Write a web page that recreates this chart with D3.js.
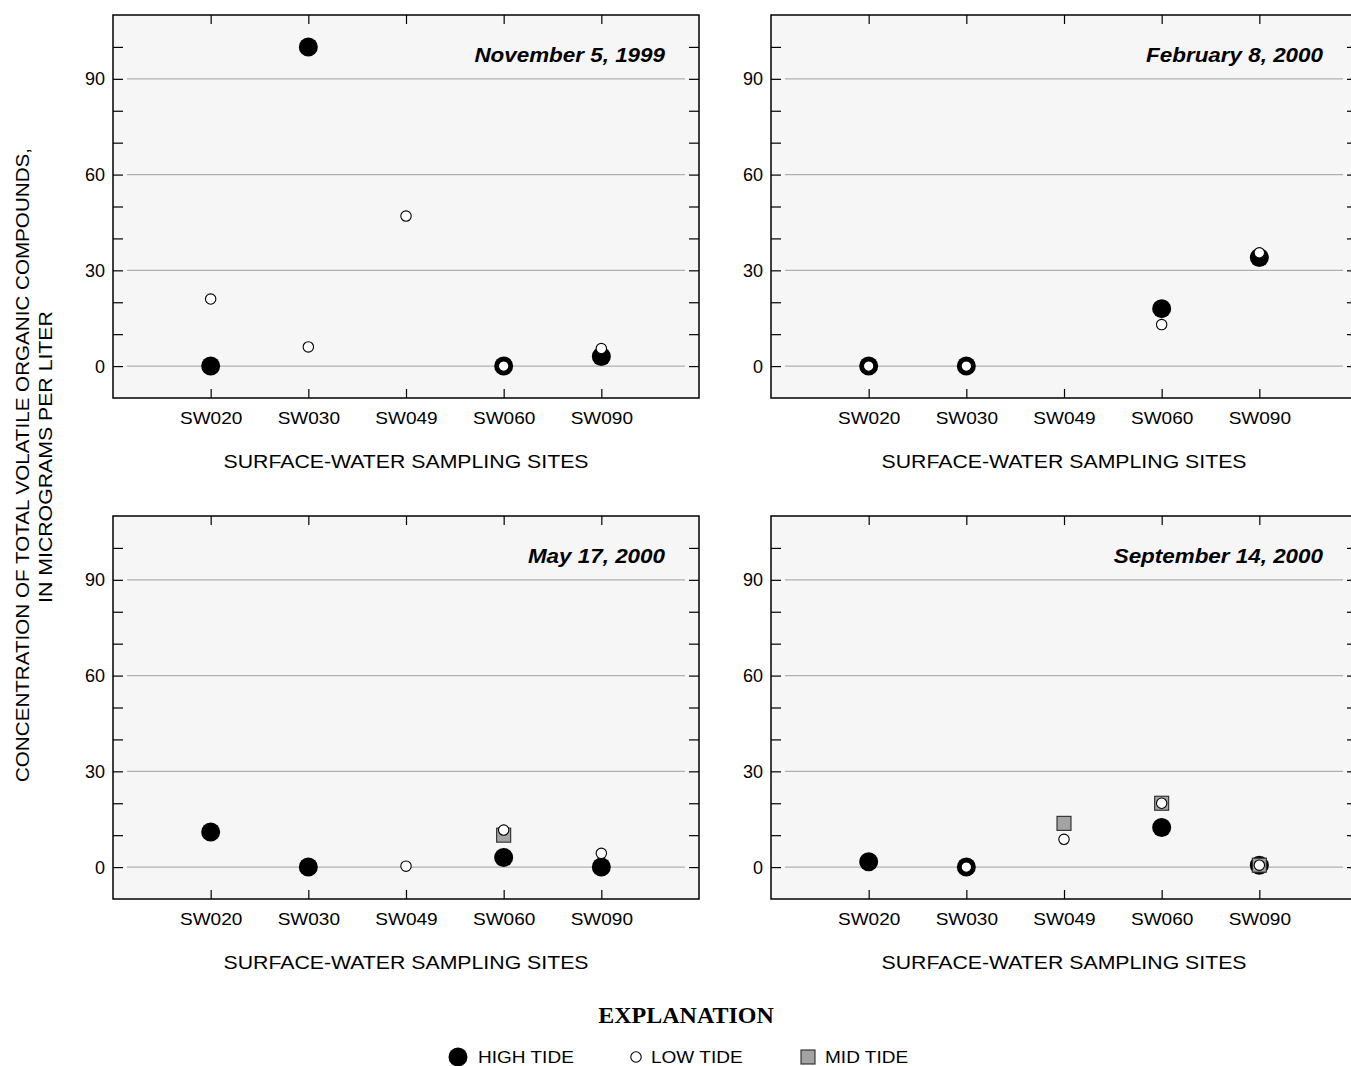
<!DOCTYPE html>
<html>
<head>
<meta charset="utf-8">
<script src="https://cdn.jsdelivr.net/npm/d3@7"></script>
<style>
  html, body { margin: 0; padding: 0; background: #ffffff; }
  svg { display: block; }
  text { font-family: "Liberation Sans", Arial, Helvetica, sans-serif; fill: #000; }
</style>
</head>
<body>
<svg id="chart" width="1351" height="1066"></svg>
<script>
// Sampling sites along the x axis
const sites = ["SW020", "SW030", "SW049", "SW060", "SW090"];

// One panel per sampling date
const sampleDates = ["November 5, 1999", "February 8, 2000", "May 17, 2000", "September 14, 2000"];

// Total VOC concentration (micrograms per liter), one row per date, one column per site; null = not sampled
const highTide = [
  [0, 100, null, 0, 3],
  [0, 0, null, 18, 34],
  [11, 0, null, 3, 0],
  [1.7, 0, null, 12.4, 0.6]
];
const lowTide = [
  [21, 6, 47, 0, 5.5],
  [0, 0, null, 13, 35.5],
  [null, null, 0.3, 11.6, 4.3],
  [null, 0, 8.7, 20, 0.6]
];
const midTide = [
  [null, null, null, null, null],
  [null, null, null, null, null],
  [null, null, null, 10, null],
  [null, null, 13.7, 20, 0.6]
];

// Axis ticks
const yMinorTicks = [0, 10, 20, 30, 40, 50, 60, 70, 80, 90, 100];
const yTickLabels = [0, 30, 60, 90];
const yDomain = [-10, 110];

const xAxisTitle = "SURFACE-WATER SAMPLING SITES";
const yAxisTitle = ["CONCENTRATION OF TOTAL VOLATILE ORGANIC COMPOUNDS,", "IN MICROGRAMS PER LITER"];
const legendTitle = "EXPLANATION";
const legendItems = ["HIGH TIDE", "LOW TIDE", "MID TIDE"];

// ---- layout ----
const svg = d3.select("#chart");
const panelW = 586, panelH = 383;
const panelOrigins = [[113, 15], [771, 15], [113, 516], [771, 516]];
const rHigh = 9.5, rLow = 5.2, sqMid = 14;

// text placed in a group so it can be widened along its own direction
function label(parent, x, y, str, opt) {
  const o = Object.assign({ size: 17, weight: "normal", style: "normal", anchor: "middle", sx: 1, rotate: 0, family: null }, opt || {});
  const g = parent.append("g")
    .attr("transform", `translate(${x},${y}) rotate(${o.rotate}) scale(${o.sx},1)`);
  const t = g.append("text")
    .attr("text-anchor", o.anchor)
    .style("font-size", o.size + "px")
    .style("font-weight", o.weight)
    .style("font-style", o.style)
    .text(str);
  if (o.family) t.style("font-family", o.family);
  return t;
}

const x = d3.scalePoint().domain(sites).range([0, panelW]).padding(1);
const y = d3.scaleLinear().domain(yDomain).range([panelH, 0]);

sampleDates.forEach((date, p) => {
  const [ox, oy] = panelOrigins[p];
  const g = svg.append("g").attr("transform", `translate(${ox},${oy})`);

  // plot background
  g.append("rect").attr("x", 0).attr("y", 0).attr("width", panelW).attr("height", panelH)
    .attr("fill", "#f6f6f6");

  // horizontal grid lines at labelled values
  g.append("g").selectAll("line").data(yTickLabels).join("line")
    .attr("x1", 14).attr("x2", panelW - 14)
    .attr("y1", d => y(d)).attr("y2", d => y(d))
    .attr("stroke", "#b0b0b0").attr("stroke-width", 1.4);

  // inward ticks on all four sides
  const left = g.append("g").call(
    d3.axisLeft(y).tickValues(yMinorTicks).tickSize(-10).tickPadding(8)
      .tickFormat(d => yTickLabels.includes(d) ? d : ""));
  const right = g.append("g").attr("transform", `translate(${panelW},0)`).call(
    d3.axisRight(y).tickValues(yMinorTicks).tickSize(-10).tickFormat(""));
  const top = g.append("g").call(d3.axisTop(x).tickSize(-9).tickFormat(""));
  const bottom = g.append("g").attr("transform", `translate(0,${panelH})`).call(
    d3.axisBottom(x).tickSize(-9).tickPadding(14));

  [left, right, top, bottom].forEach(a => {
    a.select(".domain").remove();
    a.selectAll(".tick line").attr("stroke", "#000").attr("stroke-width", 1.2);
    a.selectAll("text").attr("font-family", null).style("font-size", "18px").attr("fill", "#000");
  });
  left.selectAll("text").attr("dy", "0.34em");
  bottom.selectAll("text")
    .style("font-size", "17px")
    .attr("dy", "0.71em")
    .attr("transform", "scale(1.12,1)");

  // frame
  g.append("rect").attr("x", 0).attr("y", 0).attr("width", panelW).attr("height", panelH)
    .attr("fill", "none").attr("stroke", "#000").attr("stroke-width", 1.5);

  // date label
  label(g, panelW - 34, 47, date, { size: 19.5, weight: "bold", style: "italic", anchor: "end", sx: 1.15 });

  // x axis title
  label(g, panelW / 2, panelH + 70, xAxisTitle, { size: 18.5, anchor: "middle", sx: 1.15 });

  // markers: high tide underneath, then mid tide, then low tide
  const toPts = arr => sites.map((s, i) => ({ site: s, v: arr[p][i] })).filter(d => d.v !== null);

  g.append("g").selectAll("circle").data(toPts(highTide)).join("circle")
    .attr("cx", d => x(d.site)).attr("cy", d => y(d.v)).attr("r", rHigh)
    .attr("fill", "#000");

  g.append("g").selectAll("rect").data(toPts(midTide)).join("rect")
    .attr("x", d => x(d.site) - sqMid / 2).attr("y", d => y(d.v) - sqMid / 2)
    .attr("width", sqMid).attr("height", sqMid)
    .attr("fill", "#a3a3a3").attr("stroke", "#2a2a2a").attr("stroke-width", 1.1);

  g.append("g").selectAll("circle").data(toPts(lowTide)).join("circle")
    .attr("cx", d => x(d.site)).attr("cy", d => y(d.v)).attr("r", rLow)
    .attr("fill", "#fff").attr("stroke", "#000").attr("stroke-width", 1.1);
});

// shared y axis title
label(svg, 29, 465, yAxisTitle[0], { size: 18.5, anchor: "middle", sx: 1.115, rotate: -90 });
label(svg, 52, 457, yAxisTitle[1], { size: 18.5, anchor: "middle", sx: 1.15, rotate: -90 });

// legend
label(svg, 686, 1023, legendTitle, { size: 24, weight: "bold", anchor: "middle",
  family: "'Liberation Serif', 'Times New Roman', serif" });

const legY = 1057;
const legend = svg.append("g");
legend.append("circle").attr("cx", 458).attr("cy", legY).attr("r", rHigh).attr("fill", "#000");
label(legend, 478, legY + 6, legendItems[0], { size: 17, anchor: "start", sx: 1.12 });
legend.append("circle").attr("cx", 636).attr("cy", legY).attr("r", rLow)
  .attr("fill", "#fff").attr("stroke", "#000").attr("stroke-width", 1.1);
label(legend, 651, legY + 6, legendItems[1], { size: 17, anchor: "start", sx: 1.12 });
legend.append("rect").attr("x", 808 - sqMid / 2).attr("y", legY - sqMid / 2)
  .attr("width", sqMid).attr("height", sqMid)
  .attr("fill", "#a3a3a3").attr("stroke", "#2a2a2a").attr("stroke-width", 1.1);
label(legend, 825, legY + 6, legendItems[2], { size: 17, anchor: "start", sx: 1.12 });
</script>
</body>
</html>
